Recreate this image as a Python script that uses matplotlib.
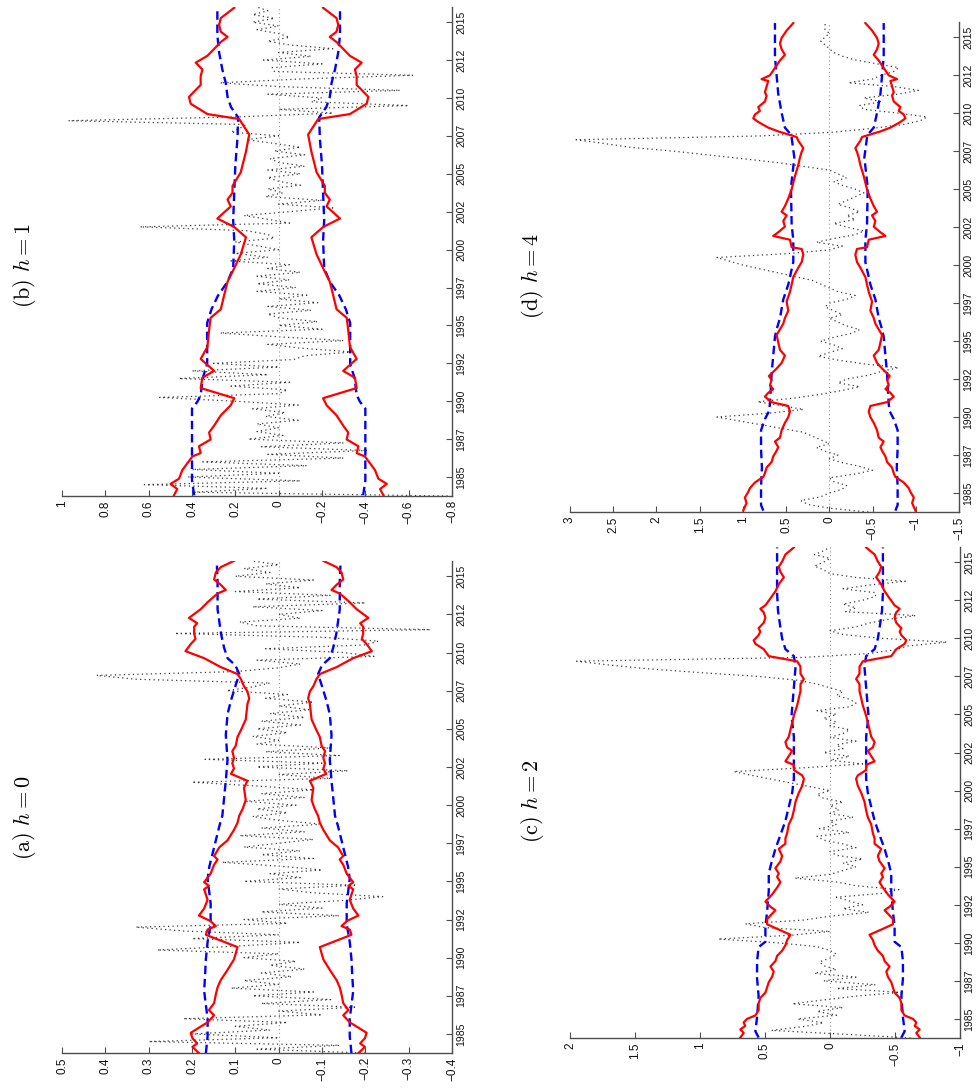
import numpy as np
import matplotlib
matplotlib.use("Agg")
import matplotlib.pyplot as plt

plt.rcParams['font.family'] = ['Liberation Sans', 'DejaVu Sans']
plt.rcParams['mathtext.fontset'] = 'cm'

# ---------------- data ----------------
quarters = 1983.75 + 0.25 * np.arange(130)

year_ticks = [1985, 1987.5, 1990, 1992.5, 1995, 1997.5, 2000, 2002.5,
              2005, 2007.5, 2010, 2012.5, 2015]
year_labels = ['1985', '1987', '1990', '1992', '1995', '1997', '2000',
               '2002', '2005', '2007', '2010', '2012', '2015']

# dotted series (quarterly)
dotted_a = [
    -0.20,
    0.05, -0.14, 0.30, 0.00,
    0.20, 0.02, 0.10, -0.02,
    0.22, -0.10, 0.00, -0.18,
    0.04, -0.12, 0.06, -0.08,
    0.11, 0.00, 0.08, -0.03,
    0.04, -0.06, 0.02, -0.04,
    0.08, 0.00, 0.28, 0.10,
    -0.05, 0.20, 0.00, 0.22,
    0.33, -0.02, 0.08, -0.14,
    0.04, -0.10, 0.00, -0.15,
    -0.24, -0.08, 0.00, -0.18,
    0.08, -0.05, 0.02, -0.10,
    0.00, 0.13, -0.08, 0.04,
    -0.05, 0.08, 0.00, -0.08,
    0.09, -0.06, 0.04, -0.10,
    0.00, 0.06, -0.02, 0.05,
    -0.04, 0.08, -0.06, 0.04,
    -0.08, 0.05, 0.20, -0.12,
    0.00, -0.16, 0.05, -0.10,
    0.17, -0.14, 0.03, -0.12,
    0.05, 0.00, 0.06, -0.02,
    0.05, -0.05, 0.04, -0.06,
    0.02, -0.07, 0.00, -0.08,
    0.03, -0.02, 0.12, 0.06,
    0.02, 0.33, 0.42, 0.10,
    0.00, -0.05, 0.05, -0.22,
    -0.15, 0.03, -0.20, -0.23,
    -0.10, 0.24, -0.35, 0.05,
    0.09, -0.05, 0.00, -0.10,
    0.06, -0.20, 0.05, -0.12,
    0.10, -0.05, 0.03, -0.08,
    0.10, 0.02, 0.08, 0.00,
    0.06,
]

dotted_b = [
    -0.78,
    0.40, 0.05, 0.62, -0.10,
    0.42, 0.00, 0.40, -0.13,
    0.35, -0.30, 0.05, -0.41,
    0.08, -0.30, 0.14, -0.02,
    0.10, 0.00, 0.10, -0.09,
    0.06, -0.03, 0.12, -0.09,
    0.20, 0.55, 0.00, -0.04,
    0.22, -0.05, 0.46, 0.05,
    0.40, 0.00, 0.30, -0.07,
    -0.12, -0.34, -0.10, 0.05,
    -0.30, 0.00, 0.27, -0.20,
    0.00, -0.18, 0.00, 0.05,
    -0.15, 0.05, -0.18, 0.00,
    -0.13, 0.10, -0.08, 0.10,
    -0.05, 0.10, -0.10, 0.05,
    -0.05, 0.22, 0.05, 0.20,
    0.00, 0.10, 0.20, 0.02,
    0.05, 0.15, 0.64, -0.05,
    0.05, 0.16, -0.05, -0.25,
    0.00, -0.20, 0.06, -0.02,
    0.05, -0.10, 0.00, 0.05,
    -0.10, 0.05, -0.12, 0.00,
    0.04, -0.12, 0.02, -0.10,
    0.02, 0.15, 0.00, 0.22,
    0.18, 0.15, 0.97, 0.20,
    -0.25, 0.00, -0.60, -0.15,
    -0.20, 0.05, -0.56, 0.00,
    0.27, -0.10, -0.62, 0.02,
    0.03, -0.20, 0.07, -0.15,
    0.00, -0.25, -0.05, 0.05,
    -0.05, 0.00, 0.10, 0.00,
    0.12, 0.02, 0.12, 0.05,
    0.10,
]

dotted_c = [
    -0.62,
    -0.10, 0.45, 0.20, 0.05,
    0.25, -0.05, 0.10, -0.10,
    0.29, 0.05, -0.20, -0.55,
    -0.05, -0.35, 0.05, -0.20,
    0.12, -0.05, 0.05, 0.08,
    0.00, -0.05, 0.00, 0.10,
    0.40, 0.86, 0.30, 0.00,
    0.50, 0.65, 0.20, 0.00,
    -0.30, -0.10, -0.25, -0.15,
    -0.05, -0.40, -0.53, -0.20,
    -0.05, 0.27, 0.00, -0.10,
    -0.20, -0.10, -0.25, -0.05,
    0.00, -0.20, -0.10, 0.05,
    0.10, -0.15, 0.08, -0.05,
    0.00, -0.18, 0.00, -0.07,
    0.00, -0.10, 0.05, 0.10,
    0.00, 0.15, 0.30, 0.45,
    0.60, 0.74, 0.20, -0.25,
    0.00, -0.15, 0.05, -0.10,
    -0.05, -0.20, 0.00, -0.10,
    -0.15, 0.00, -0.05, 0.05,
    -0.05, 0.10, -0.15, -0.20,
    -0.15, -0.05, -0.10, 0.00,
    0.10, 0.25, 0.55, 1.00,
    1.40, 1.70, 1.95, 0.20,
    -0.30, -0.50, -0.60, -0.90,
    -0.40, -0.10, 0.00, -0.20,
    -0.30, -0.45, -0.66, -0.12,
    -0.20, -0.10, -0.25, -0.35,
    -0.35, -0.10, -0.30, -0.58,
    -0.20, 0.00, 0.05, 0.12,
    0.05, 0.00, 0.12, 0.05,
    0.00,
]

dotted_d = [
    -0.45,
    0.00, 0.25, 0.33, 0.10,
    0.00, -0.15, -0.20, -0.05,
    0.00, -0.30, -0.50, -0.35,
    -0.15, 0.00, -0.10, 0.05,
    0.15, 0.00, 0.10, 0.20,
    0.30, 0.55, 0.80, 1.05,
    1.30, 0.70, 0.30, 0.55,
    0.83, 0.40, 0.10, -0.15,
    -0.35, -0.10, -0.20, -0.45,
    -0.60, -0.80, -0.40, -0.10,
    0.13, 0.00, -0.15, -0.05,
    0.10, -0.05, -0.25, -0.35,
    -0.20, -0.10, 0.00, -0.15,
    -0.05, 0.05, 0.00, -0.20,
    -0.30, -0.10, 0.00, 0.10,
    0.20, 0.40, 0.60, 0.80,
    1.00, 1.15, 1.30, 0.50,
    0.00, -0.15, 0.15, -0.05,
    -0.30, -0.40, -0.20, -0.05,
    -0.30, -0.20, -0.35, -0.25,
    -0.10, -0.20, -0.30, -0.40,
    -0.30, -0.15, -0.05, -0.20,
    -0.10, 0.00, 0.30, 0.60,
    1.00, 1.40, 1.80, 2.30,
    2.60, 2.93, 0.80, -0.05,
    -0.50, -0.85, -1.05, -1.13,
    -0.80, -0.40, -0.35, -0.60,
    -0.40, -0.80, -1.03, -0.75,
    -0.22, -0.50, -0.60, -0.75,
    -0.80, -0.55, -0.30, -0.15,
    -0.05, 0.00, 0.05, 0.10,
    0.05, 0.00, 0.05, 0.05,
    0.05,
]

# red (solid) band, symmetric +/-
red_a_years = [1983.74, 1984.15, 1984.38, 1984.72, 1985.07, 1985.41, 1985.76, 1986.22, 1986.56,
               1987.02, 1987.59, 1988.05, 1988.51, 1989.20, 1989.89, 1990.69, 1991.50, 1991.84,
               1992.07, 1992.41, 1992.76, 1993.22, 1993.79, 1994.48, 1994.71, 1994.94, 1995.51,
               1996.09, 1996.43, 1996.66, 1997.23, 1997.69, 1998.38, 1998.84, 1999.30, 1999.76,
               2000.33, 2001.13, 2001.59, 2001.82, 2002.05, 2002.40, 2002.74, 2003.09, 2003.54,
               2003.89, 2004.46, 2004.92, 2005.61, 2006.64, 2006.99, 2007.45, 2007.79, 2008.25,
               2008.59, 2009.05, 2009.63, 2010.09, 2010.55, 2010.89, 2011.23, 2011.69, 2011.92,
               2012.27, 2012.84, 2013.30, 2013.87, 2014.10, 2014.45, 2014.79, 2015.25, 2015.59,
               2016.01]
red_a = [0.184, 0.199, 0.188, 0.199, 0.203, 0.184, 0.164, 0.149, 0.161,
         0.149, 0.145, 0.141, 0.134, 0.118, 0.103, 0.095, 0.168, 0.164,
         0.145, 0.158, 0.184, 0.172, 0.164, 0.172, 0.161, 0.172, 0.157,
         0.149, 0.141, 0.149, 0.137, 0.118, 0.103, 0.095, 0.091, 0.083,
         0.076, 0.080, 0.072, 0.091, 0.110, 0.103, 0.107, 0.103, 0.107,
         0.099, 0.095, 0.087, 0.076, 0.072, 0.068, 0.072, 0.080, 0.087,
         0.095, 0.134, 0.172, 0.215, 0.203, 0.192, 0.195, 0.195, 0.188,
         0.207, 0.180, 0.164, 0.141, 0.122, 0.134, 0.149, 0.145, 0.134,
         0.103]

blue_a_years = [1983.74, 1984.84, 1985.99, 1986.90, 1987.82, 1988.74, 1989.89, 1991.04, 1992.18,
                1993.56, 1995.17, 1995.97, 1996.77, 1997.69, 1998.61, 1999.30, 2000.45, 2001.59,
                2002.97, 2004.58, 2005.96, 2006.87, 2007.79, 2008.59, 2009.17, 2009.63, 2010.32,
                2011.23, 2012.84, 2014.68, 2016.01]
blue_a = [0.168, 0.164, 0.164, 0.168, 0.172, 0.170, 0.168, 0.164, 0.157,
          0.157, 0.164, 0.160, 0.153, 0.145, 0.137, 0.130, 0.126, 0.122,
          0.118, 0.122, 0.118, 0.110, 0.100, 0.091, 0.100, 0.118, 0.126,
          0.133, 0.141, 0.141, 0.143]

red_b_years = [1983.80, 1984.21, 1984.55, 1984.89, 1985.45, 1985.90, 1986.36, 1986.58, 1987.03,
               1987.48, 1987.94, 1988.39, 1989.07, 1989.74, 1990.20, 1990.87, 1991.55, 1992.00,
               1992.79, 1993.58, 1994.71, 1995.50, 1996.07, 1996.97, 1997.88, 1998.78, 1999.68,
               2000.81, 2001.49, 2002.05, 2002.85, 2003.30, 2003.75, 2004.20, 2005.10, 2006.46,
               2007.59, 2008.27, 2008.61, 2008.94, 2009.62, 2010.07, 2010.53, 2010.86, 2011.43,
               2011.88, 2012.33, 2012.78, 2013.69, 2014.03, 2014.37, 2014.82, 2015.27, 2015.95]
red_b = [0.483, 0.468, 0.499, 0.460, 0.445, 0.422, 0.398, 0.360, 0.368,
         0.314, 0.321, 0.298, 0.267, 0.221, 0.205, 0.360, 0.352, 0.298,
         0.360, 0.329, 0.321, 0.314, 0.267, 0.252, 0.236, 0.205, 0.175,
         0.151, 0.205, 0.283, 0.221, 0.236, 0.213, 0.213, 0.175, 0.151,
         0.136, 0.167, 0.182, 0.329, 0.406, 0.414, 0.383, 0.360, 0.360,
         0.352, 0.383, 0.329, 0.267, 0.236, 0.267, 0.275, 0.267, 0.205]

blue_b_years = [1983.80, 1984.77, 1989.52, 1989.97, 1990.42, 1991.55, 1992.45, 1995.16, 1996.07,
                1996.97, 1997.88, 1998.78, 2000.59, 2001.94, 2003.75, 2005.56, 2007.36, 2008.72,
                2009.40, 2010.07, 2010.98, 2011.88, 2013.01, 2014.14, 2015.95]
blue_b = [0.390, 0.400, 0.400, 0.375, 0.360, 0.350, 0.330, 0.330, 0.310,
          0.280, 0.236, 0.210, 0.205, 0.210, 0.205, 0.200, 0.190, 0.187,
          0.220, 0.236, 0.244, 0.260, 0.275, 0.283, 0.283]

red_c_years = [1983.78, 1984.08, 1984.31, 1984.54, 1984.77, 1985.00, 1985.23, 1985.58, 1986.04,
               1986.38, 1986.73, 1987.07, 1987.42, 1987.76, 1988.11, 1988.45, 1988.80, 1989.14,
               1989.49, 1989.84, 1990.18, 1990.53, 1990.87, 1991.22, 1991.56, 1991.91, 1992.14,
               1992.37, 1992.71, 1993.17, 1993.63, 1993.98, 1994.33, 1994.56, 1994.90, 1995.36,
               1995.71, 1996.17, 1996.51, 1996.86, 1997.20, 1997.78, 1998.24, 1998.70, 1999.28,
               1999.85, 2000.31, 2000.77, 2001.00, 2001.35, 2001.69, 2001.92, 2002.27, 2002.61,
               2002.84, 2003.19, 2003.54, 2004.00, 2004.46, 2004.92, 2005.61, 2006.07, 2006.53,
               2006.99, 2007.33, 2007.68, 2008.14, 2008.49, 2008.83, 2009.29, 2009.64, 2009.87,
               2010.21, 2010.44, 2010.67, 2011.02, 2011.36, 2011.71, 2011.94, 2012.17, 2012.63,
               2013.09, 2013.55, 2014.01, 2014.36, 2014.70, 2015.05, 2015.51, 2015.97]
red_c = [0.690, 0.664, 0.690, 0.652, 0.664, 0.639, 0.574, 0.549, 0.549,
         0.536, 0.497, 0.484, 0.471, 0.446, 0.433, 0.458, 0.420, 0.407,
         0.368, 0.343, 0.330, 0.304, 0.394, 0.484, 0.484, 0.446, 0.420,
         0.458, 0.497, 0.446, 0.407, 0.381, 0.407, 0.394, 0.420, 0.381,
         0.368, 0.394, 0.343, 0.343, 0.330, 0.317, 0.291, 0.278, 0.265,
         0.240, 0.214, 0.201, 0.214, 0.278, 0.278, 0.343, 0.317, 0.291,
         0.330, 0.343, 0.317, 0.304, 0.291, 0.278, 0.252, 0.240, 0.227,
         0.227, 0.201, 0.227, 0.227, 0.252, 0.471, 0.510, 0.574, 0.587,
         0.549, 0.536, 0.549, 0.510, 0.497, 0.510, 0.536, 0.497, 0.458,
         0.420, 0.394, 0.355, 0.381, 0.394, 0.368, 0.343, 0.278]

blue_c_years = [1983.78, 1984.19, 1985.12, 1986.50, 1987.65, 1988.80, 1989.72, 1990.07, 1991.10,
                1992.02, 1993.40, 1994.56, 1995.25, 1996.17, 1997.09, 1998.01, 1998.93, 1999.85,
                2000.77, 2003.54, 2004.92, 2006.76, 2008.14, 2008.83, 2009.29, 2009.98, 2010.67,
                2011.82, 2012.97, 2015.97]
blue_c = [0.549, 0.574, 0.561, 0.549, 0.561, 0.561, 0.549, 0.497, 0.497,
          0.484, 0.471, 0.471, 0.451, 0.420, 0.381, 0.343, 0.317, 0.291,
          0.278, 0.278, 0.296, 0.278, 0.265, 0.278, 0.343, 0.368, 0.381,
          0.400, 0.407, 0.407]

red_d_years = [1983.84, 1984.34, 1984.70, 1985.07, 1985.32, 1985.69, 1986.06, 1986.30, 1986.67,
               1987.04, 1987.41, 1987.78, 1988.02, 1988.39, 1988.64, 1989.13, 1989.62, 1989.99,
               1990.36, 1990.73, 1990.98, 1991.34, 1991.59, 1991.84, 1992.08, 1992.45, 1992.70,
               1993.19, 1993.56, 1994.05, 1994.42, 1994.91, 1995.40, 1995.77, 1996.14, 1996.51,
               1997.00, 1997.61, 1998.23, 1998.72, 1999.21, 1999.83, 2000.20, 2000.69, 2001.06,
               2001.18, 2001.67, 2001.92, 2002.16, 2002.53, 2002.90, 2003.27, 2003.51, 2003.88,
               2004.38, 2004.99, 2005.85, 2006.59, 2007.08, 2007.45, 2007.70, 2008.19, 2008.43,
               2008.80, 2009.05, 2009.42, 2009.66, 2009.91, 2010.15, 2010.40, 2010.77, 2011.14,
               2011.38, 2011.75, 2012.12, 2012.24, 2012.49, 2012.98, 2013.47, 2013.84, 2014.21,
               2014.58, 2014.95, 2015.44, 2015.93]
red_d = [0.996, 0.958, 0.977, 0.938, 0.919, 0.861, 0.764, 0.745, 0.726,
         0.668, 0.649, 0.610, 0.591, 0.629, 0.571, 0.552, 0.514, 0.475,
         0.456, 0.475, 0.668, 0.745, 0.707, 0.649, 0.687, 0.668, 0.699,
         0.610, 0.552, 0.514, 0.571, 0.591, 0.610, 0.571, 0.533, 0.514,
         0.475, 0.494, 0.456, 0.436, 0.417, 0.359, 0.320, 0.301, 0.320,
         0.436, 0.456, 0.649, 0.591, 0.514, 0.533, 0.494, 0.552, 0.514,
         0.475, 0.436, 0.398, 0.359, 0.340, 0.320, 0.301, 0.359, 0.378,
         0.591, 0.707, 0.822, 0.880, 0.861, 0.803, 0.822, 0.745, 0.726,
         0.745, 0.726, 0.707, 0.784, 0.687, 0.629, 0.571, 0.514, 0.552,
         0.571, 0.552, 0.494, 0.417]

blue_d_years = [1983.84, 1984.21, 1985.44, 1986.67, 1987.90, 1989.13, 1989.87, 1990.36, 1990.85,
                1992.82, 1994.05, 1995.28, 1995.77, 1996.51, 1997.74, 1998.72, 2000.20, 2001.67,
                2002.65, 2005.11, 2007.08, 2008.56, 2009.05, 2010.03, 2011.26, 2012.49, 2013.72,
                2015.93]
blue_d = [0.764, 0.790, 0.790, 0.780, 0.790, 0.790, 0.745, 0.700, 0.687,
          0.668, 0.649, 0.629, 0.610, 0.571, 0.533, 0.475, 0.417, 0.417,
          0.436, 0.444, 0.405, 0.440, 0.514, 0.552, 0.591, 0.610, 0.629,
          0.629]

# ---------------- panel layout (pixels) ----------------
W, H = 976, 1090
panels = [
    dict(title=r'$\mathrm{(a)}\ h = 0$', box=(62, 561, 452, 1053), tpos=(24, 818),
         xlim=(0.5, -0.4), ticks=[0.5, 0.4, 0.3, 0.2, 0.1, 0, -0.1, -0.2, -0.3, -0.4],
         labels=['0.5', '0.4', '0.3', '0.2', '0.1', '0', '\u22120.1', '\u22120.2', '\u22120.3', '\u22120.4'],
         dotted=dotted_a, ry=red_a_years, r=red_a, by=blue_a_years, b=blue_a),
    dict(title=r'$\mathrm{(b)}\ h = 1$', box=(62, 7, 452, 496), tpos=(24, 265),
         xlim=(1, -0.8), ticks=[1, 0.8, 0.6, 0.4, 0.2, 0, -0.2, -0.4, -0.6, -0.8],
         labels=['1', '0.8', '0.6', '0.4', '0.2', '0', '\u22120.2', '\u22120.4', '\u22120.6', '\u22120.8'],
         dotted=dotted_b, ry=red_b_years, r=red_b, by=blue_b_years, b=blue_b),
    dict(title=r'$\mathrm{(c)}\ h = 2$', box=(570, 547, 960, 1038), tpos=(532, 801),
         xlim=(2, -1), ticks=[2, 1.5, 1, 0.5, 0, -0.5, -1],
         labels=['2', '1.5', '1', '0.5', '0', '\u22120.5', '\u22121'],
         dotted=dotted_c, ry=red_c_years, r=red_c, by=blue_c_years, b=blue_c),
    dict(title=r'$\mathrm{(d)}\ h = 4$', box=(570, 22, 959, 512), tpos=(533, 276),
         xlim=(3, -1.5), ticks=[3, 2.5, 2, 1.5, 1, 0.5, 0, -0.5, -1, -1.5],
         labels=['3', '2.5', '2', '1.5', '1', '0.5', '0', '\u22120.5', '\u22121', '\u22121.5'],
         dotted=dotted_d, ry=red_d_years, r=red_d, by=blue_d_years, b=blue_d),
]

fig = plt.figure(figsize=(W / 100, H / 100), dpi=100)

axis_col = '#4d4d4d'
for p in panels:
    l, t, r, btm = p['box']
    ax = fig.add_axes([l / W, 1 - btm / H, (r - l) / W, (btm - t) / H])
    ry = np.array(p['r'])
    by = np.array(p['b'])
    d = np.array(p['dotted'])
    ax.plot(d, quarters, color='#3a3a3a', lw=0.9, ls=(0, (1, 2.6)), zorder=1)
    ax.axvline(0, color='#9a9a9a', lw=0.8, ls=(0, (1, 2.5)), zorder=1.5)
    ax.plot(by, p['by'], color='#0000ff', lw=1.7, ls=(0, (3.6, 2.0)), zorder=2)
    ax.plot(-by, p['by'], color='#0000ff', lw=1.7, ls=(0, (3.6, 2.0)), zorder=2)
    ax.plot(ry, p['ry'], color='#ff0000', lw=1.6, zorder=3)
    ax.plot(-ry, p['ry'], color='#ff0000', lw=1.6, zorder=3)

    ax.set_xlim(*p['xlim'])
    ax.set_ylim(1983.75, 2016.0)
    ax.set_xticks(p['ticks'])
    ax.set_xticklabels(p['labels'], rotation=90, fontsize=8.5)
    ax.yaxis.tick_right()
    ax.set_yticks(year_ticks)
    ax.set_yticklabels(year_labels, rotation=90, va='center', fontsize=7.5)
    ax.tick_params(direction='in', length=4, width=0.8, color=axis_col,
                   labelcolor='#111111', pad=3)
    for s in ['left', 'top']:
        ax.spines[s].set_visible(False)
    for s in ['right', 'bottom']:
        ax.spines[s].set_color(axis_col)
        ax.spines[s].set_linewidth(1.0)
    ax.set_facecolor('none')

    fig.text(p['tpos'][0] / W, 1 - p['tpos'][1] / H, p['title'], rotation=90,
             ha='center', va='center', fontsize=16)

fig.savefig('out.png', dpi=100)
